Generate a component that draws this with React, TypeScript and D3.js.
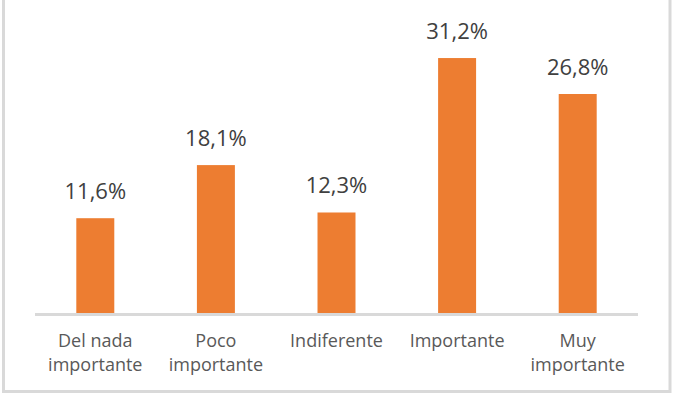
import React from "react";
import * as d3 from "d3";

const categories: string[][] = [
  ["Del nada", "importante"],
  ["Poco", "importante"],
  ["Indiferente"],
  ["Importante"],
  ["Muy", "importante"],
];
const values: number[] = [11.6, 18.1, 12.3, 31.2, 26.8];
const valueLabels: string[] = ["11,6%", "18,1%", "12,3%", "31,2%", "26,8%"];

const W = 676;
const H = 395;

export default function App() {
  const x = d3
    .scaleBand<number>()
    .domain(values.map((_, i) => i))
    .range([35, 638])
    .paddingInner(0.685)
    .paddingOuter(0.3425);
  const y = d3.scaleLinear().domain([0, 35]).range([313, 27]);
  const font = "'Open Sans', sans-serif";
  return (
    <div style={{ position: "fixed", left: 0, top: 0 }}>
      <svg width={W} height={H} style={{ display: "block" }}>
        <rect x={0} y={0} width={W} height={H} fill="#ffffff" />
        <rect
          x={3.5}
          y={-5}
          width={666.5}
          height={396.5}
          fill="none"
          stroke="#d9d9d9"
          strokeWidth={3}
        />
        {values.map((v, i) => (
          <rect
            key={i}
            x={x(i)}
            y={y(v)}
            width={x.bandwidth()}
            height={y(0) - y(v)}
            fill="#ed7d31"
          />
        ))}
        <line x1={35} x2={638} y1={314.5} y2={314.5} stroke="#d9d9d9" strokeWidth={3} />
        {values.map((v, i) => (
          <text
            key={"v" + i}
            x={(x(i) as number) + x.bandwidth() / 2}
            y={y(v) - 19.5}
            textAnchor="middle"
            fontFamily={font}
            fontSize={22}
            fill="#404040"
          >
            {valueLabels[i]}
          </text>
        ))}
        {categories.map((lines, i) => (
          <text
            key={"c" + i}
            x={(x(i) as number) + x.bandwidth() / 2}
            y={346.7}
            textAnchor="middle"
            fontFamily={font}
            fontSize={18}
            fill="#595959"
          >
            {lines.map((l, j) => (
              <tspan key={j} x={(x(i) as number) + x.bandwidth() / 2} dy={j === 0 ? 0 : 24}>
                {l}
              </tspan>
            ))}
          </text>
        ))}
      </svg>
    </div>
  );
}
